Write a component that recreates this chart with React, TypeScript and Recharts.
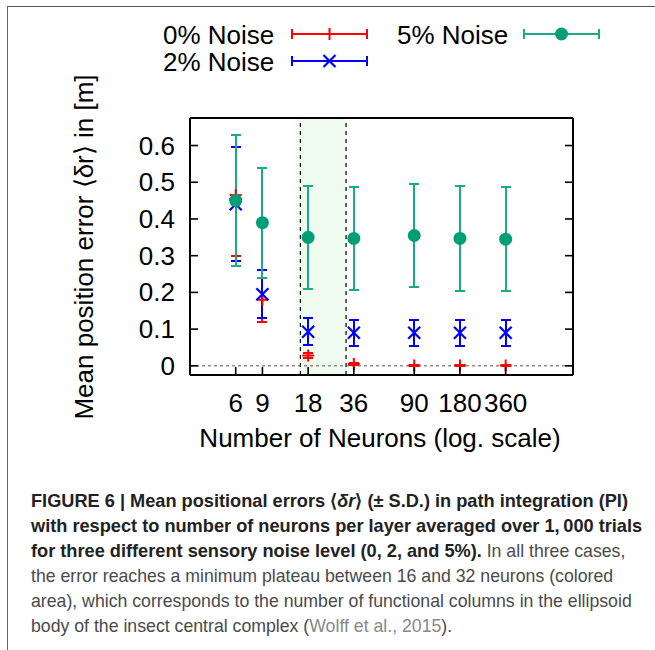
import {
    ComposedChart,
    ErrorBar,
    ReferenceArea,
    ReferenceLine,
    Scatter,
    XAxis,
    YAxis,
} from "recharts";

const neurons = [6, 9, 18, 36, 90, 180, 360];

const noise0Mean = [0.465, 0.18, 0.028, 0.005, 0.001, 0.001, 0.001];
const noise0Sd = [0.165, 0.06, 0.006, 0.003, 0.001, 0.001, 0.001];

const noise2Mean = [0.44, 0.195, 0.093, 0.09, 0.09, 0.09, 0.09];
const noise2Sd = [0.155, 0.065, 0.036, 0.035, 0.036, 0.036, 0.036];

const noise5Mean = [0.45, 0.39, 0.35, 0.347, 0.355, 0.347, 0.345];
const noise5Sd = [0.178, 0.15, 0.141, 0.14, 0.141, 0.143, 0.142];

const xTicks = [6, 9, 18, 36, 90, 180, 360];
const topTicks = [16, 32];
const yTicks = [0, 0.1, 0.2, 0.3, 0.4, 0.5, 0.6];
const plateau = [16, 32];

const RED = "#ff0000";
const BLUE = "#0000ff";
const TEAL_BAR = "#1aab85";
const TEAL = "#009e76";
const FONT = '"Liberation Sans", Arial, Helvetica, sans-serif';
const FS = 26;
const TICK_LEN = 8;

function toPoints(means: number[], sds: number[]) {
    return neurons.map((x, i) => ({ x, y: means[i], err: sds[i] }));
}

const data0 = toPoints(noise0Mean, noise0Sd);
const data2 = toPoints(noise2Mean, noise2Sd);
const data5 = toPoints(noise5Mean, noise5Sd);

function PlusShape(props: any) {
    const { cx, cy } = props;
    const s = 6;
    return (
        <g stroke={RED} strokeWidth={2}>
            <line x1={cx - s} y1={cy} x2={cx + s} y2={cy} />
            <line x1={cx} y1={cy - s} x2={cx} y2={cy + s} />
        </g>
    );
}

function CrossShape(props: any) {
    const { cx, cy } = props;
    const s = 6;
    return (
        <g stroke={BLUE} strokeWidth={2.2}>
            <line x1={cx - s} y1={cy - s} x2={cx + s} y2={cy + s} />
            <line x1={cx - s} y1={cy + s} x2={cx + s} y2={cy - s} />
        </g>
    );
}

function DotShape(props: any) {
    const { cx, cy } = props;
    return <circle cx={cx} cy={cy} r={6.5} fill={TEAL} />;
}

function BottomTick(props: any) {
    const { x, y, payload } = props;
    return (
        <g>
            <line x1={x} y1={y} x2={x} y2={y - TICK_LEN} stroke="#000" strokeWidth={1.6} />
            <text x={x} y={y + 28} dy="0.35em" textAnchor="middle" fontSize={FS} fontFamily={FONT} fill="#000">
                {payload.value}
            </text>
        </g>
    );
}

function TopTick(props: any) {
    const { x, y, payload } = props;
    return (
        <g>
            <line x1={x} y1={y} x2={x} y2={y + TICK_LEN} stroke="#000" strokeWidth={1.6} />
            <text x={x} y={y - 18} dy="0.35em" textAnchor="middle" fontSize={FS} fontFamily={FONT} fill="#000">
                {payload.value}
            </text>
        </g>
    );
}

function LeftTick(props: any) {
    const { x, y, payload } = props;
    return (
        <g>
            <line x1={x} y1={y} x2={x + TICK_LEN} y2={y} stroke="#000" strokeWidth={1.6} />
            <text x={x - 15} y={y} dy="0.35em" textAnchor="end" fontSize={FS} fontFamily={FONT} fill="#000">
                {payload.value}
            </text>
        </g>
    );
}

function RightTick(props: any) {
    const { x, y } = props;
    return <line x1={x} y1={y} x2={x - TICK_LEN} y2={y} stroke="#000" strokeWidth={1.6} />;
}

function LegendSample({ color, marker }: { color: string; marker: "plus" | "cross" | "dot" }) {
    const w = 75;
    const c = w / 2;
    return (
        <svg width={w + 4} height={16} style={{ display: "block" }}>
            <g stroke={color} strokeWidth={2}>
                <line x1={2} y1={8} x2={w + 2} y2={8} />
                <line x1={2} y1={3} x2={2} y2={13} />
                <line x1={w + 2} y1={3} x2={w + 2} y2={13} />
            </g>
            {marker === "plus" && <PlusShape cx={c + 2} cy={8} />}
            {marker === "cross" && <CrossShape cx={c + 2} cy={8} />}
            {marker === "dot" && <circle cx={c + 2} cy={8} r={6.5} fill={TEAL} />}
        </svg>
    );
}

const legendText: React.CSSProperties = {
    position: "absolute",
    fontSize: FS,
    lineHeight: "26px",
    fontFamily: FONT,
    color: "#000",
    whiteSpace: "nowrap",
};

const bold: React.CSSProperties = { fontWeight: "bold", color: "#222", fontSize: 18.2 };

export default function App() {
    return (
        <div
            style={{
                position: "absolute",
                left: 0,
                top: 0,
                width: 655,
                height: 650,
                background: "#fff",
                overflow: "hidden",
            }}
        >
            {/* page border */}
            <div style={{ position: "absolute", left: 7, top: 6, width: 660, height: 660, borderLeft: "1.5px solid #666", borderTop: "1.5px solid #555" }} />

            {/* legend */}
            <div style={{ ...legendText, left: 163, top: 22 }}>0% Noise</div>
            <div style={{ position: "absolute", left: 290, top: 26 }}>
                <LegendSample color={RED} marker="plus" />
            </div>
            <div style={{ ...legendText, left: 397, top: 22 }}>5% Noise</div>
            <div style={{ position: "absolute", left: 522, top: 26 }}>
                <LegendSample color={TEAL_BAR} marker="dot" />
            </div>
            <div style={{ ...legendText, left: 163, top: 49 }}>2% Noise</div>
            <div style={{ position: "absolute", left: 290, top: 53 }}>
                <LegendSample color={BLUE} marker="cross" />
            </div>

            <div style={{ position: "absolute", left: 0, top: 0 }}>
                <ComposedChart
                    width={655}
                    height={470}
                    margin={{ top: 88, right: 62, bottom: 55, left: 130 }}
                >
                    <XAxis
                        xAxisId="bottom"
                        dataKey="x"
                        type="number"
                        scale="log"
                        domain={[3, 1000]}
                        allowDataOverflow
                        ticks={xTicks}
                        interval={0}
                        height={40}
                        tickSize={0}
                        tickMargin={0}
                        tickLine={false}
                        tick={<BottomTick />}
                        axisLine={{ stroke: "#000", strokeWidth: 2 }}
                    />
                    <XAxis
                        xAxisId="top"
                        orientation="top"
                        type="number"
                        scale="log"
                        domain={[3, 1000]}
                        allowDataOverflow
                        ticks={topTicks}
                        interval={0}
                        height={30}
                        tickSize={0}
                        tickMargin={0}
                        tickLine={false}
                        tick={<TopTick />}
                        axisLine={{ stroke: "#000", strokeWidth: 2 }}
                    />
                    <YAxis
                        yAxisId="left"
                        dataKey="y"
                        type="number"
                        domain={[-0.025, 0.675]}
                        allowDataOverflow
                        ticks={yTicks}
                        interval={0}
                        width={60}
                        tickSize={0}
                        tickMargin={0}
                        tickLine={false}
                        tick={<LeftTick />}
                        axisLine={{ stroke: "#000", strokeWidth: 2 }}
                    />
                    <YAxis
                        yAxisId="right"
                        orientation="right"
                        type="number"
                        domain={[-0.025, 0.675]}
                        allowDataOverflow
                        ticks={yTicks}
                        interval={0}
                        width={20}
                        tickSize={0}
                        tickMargin={0}
                        tickLine={false}
                        tick={<RightTick />}
                        axisLine={{ stroke: "#000", strokeWidth: 2 }}
                    />

                    <ReferenceArea
                        xAxisId="bottom"
                        yAxisId="left"
                        x1={plateau[0]}
                        x2={plateau[1]}
                        fill="#eefbee"
                        fillOpacity={1}
                        stroke="none"
                        ifOverflow="hidden"
                    />
                    {plateau.map((v) => (
                        <ReferenceLine
                            key={v}
                            xAxisId="bottom"
                            yAxisId="left"
                            x={v}
                            stroke="#000"
                            strokeWidth={1.2}
                            strokeDasharray="4 4"
                        />
                    ))}
                    <ReferenceLine
                        xAxisId="bottom"
                        yAxisId="left"
                        y={0}
                        stroke="#555"
                        strokeWidth={1}
                        strokeDasharray="3 3"
                    />

                    <Scatter
                        name="0% Noise"
                        data={data0}
                        xAxisId="bottom"
                        yAxisId="left"
                        shape={<PlusShape />}
                        isAnimationActive={false}
                    >
                        <ErrorBar dataKey="err" direction="y" width={5} stroke={RED} strokeWidth={2} shapeRendering="crispEdges" />
                    </Scatter>
                    <Scatter
                        name="2% Noise"
                        data={data2}
                        xAxisId="bottom"
                        yAxisId="left"
                        shape={<CrossShape />}
                        isAnimationActive={false}
                    >
                        <ErrorBar dataKey="err" direction="y" width={5} stroke={BLUE} strokeWidth={2} shapeRendering="crispEdges" />
                    </Scatter>
                    <Scatter
                        name="5% Noise"
                        data={data5}
                        xAxisId="bottom"
                        yAxisId="left"
                        shape={<DotShape />}
                        isAnimationActive={false}
                    >
                        <ErrorBar dataKey="err" direction="y" width={5} stroke={TEAL_BAR} strokeWidth={2} shapeRendering="crispEdges" />
                    </Scatter>
                </ComposedChart>
            </div>

            {/* axis titles */}
            <div
                style={{
                    position: "absolute",
                    left: 84,
                    top: 247,
                    transform: "translate(-50%, -50%) rotate(-90deg)",
                    fontSize: FS,
                    fontFamily: FONT,
                    whiteSpace: "nowrap",
                    color: "#000",
                }}
            >
                Mean position error ⟨δr⟩ in [m]
            </div>
            <div
                style={{
                    position: "absolute",
                    left: 380,
                    top: 438,
                    transform: "translate(-50%, -50%)",
                    fontSize: FS,
                    fontFamily: FONT,
                    whiteSpace: "nowrap",
                    color: "#000",
                }}
            >
                Number of Neurons (log. scale)
            </div>

            {/* caption */}
            <div
                style={{
                    position: "absolute",
                    left: 31,
                    top: 489,
                    fontSize: 17.7,
                    lineHeight: "25px",
                    fontFamily: FONT,
                    whiteSpace: "nowrap",
                    color: "#4a4a4a",
                }}
            >
                <div style={bold}>
                    FIGURE 6 | Mean positional errors ⟨<i>δr</i>⟩ (± S.D.) in path integration (PI)
                </div>
                <div style={bold}>
                    with respect to number of neurons per layer averaged over 1,{"\u2009"}000 trials
                </div>
                <div>
                    <span style={bold}>
                        for three different sensory noise level (0, 2, and 5%).
                    </span>{" "}
                    In all three cases,
                </div>
                <div>the error reaches a minimum plateau between 16 and 32 neurons (colored</div>
                <div>area), which corresponds to the number of functional columns in the ellipsoid</div>
                <div>
                    body of the insect central complex (<span style={{ color: "#888" }}>Wolff et al., 2015</span>).
                </div>
            </div>
        </div>
    );
}
